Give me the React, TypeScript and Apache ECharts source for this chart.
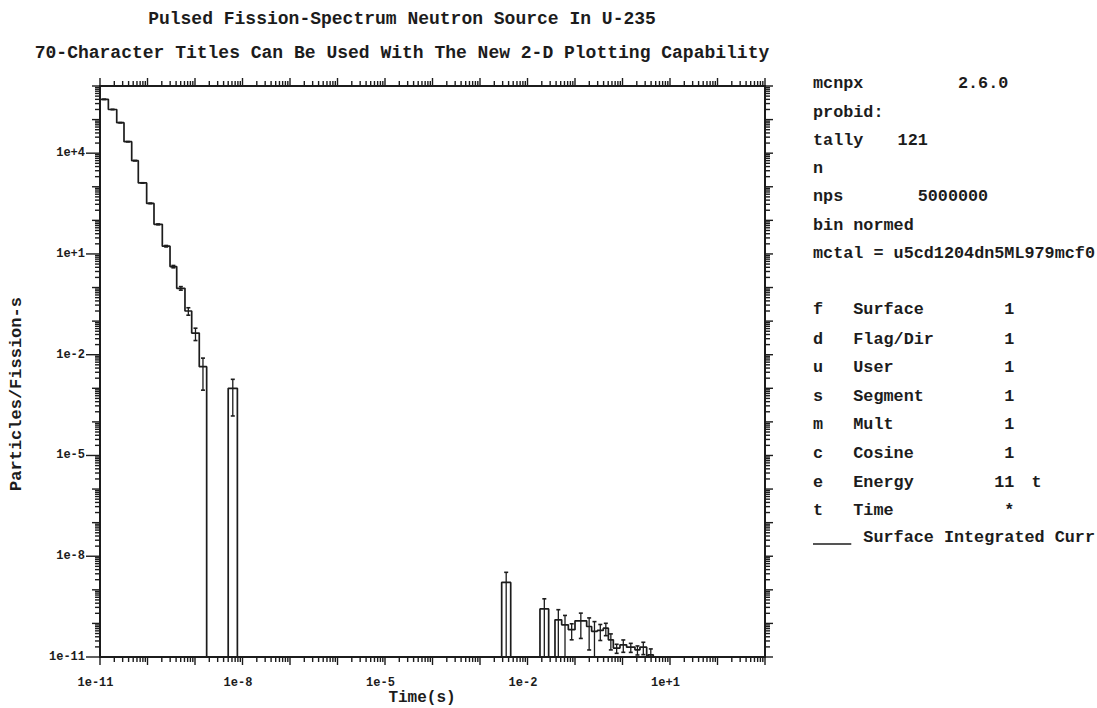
import React, { useEffect, useRef } from "react";
import * as echarts from "echarts";

// ---- axis extents (powers of ten) ----
const X_MIN_EXP = -11;
const X_MAX_EXP = 3;
const Y_MIN_EXP = -11;
const Y_MAX_EXP = 6;

const xTickLabels = ["1e-11", "1e-8", "1e-5", "1e-2", "1e+1"];
const yTickLabels = ["1e-11", "1e-8", "1e-5", "1e-2", "1e+1", "1e+4"];

// ---- tally data: time-bin edges (s), values (particles/fission-s), relative errors ----
const promptEdges = [1.0e-11, 1.5e-11, 2.25e-11, 3.2e-11, 4.65e-11, 6.4e-11, 9.6e-11, 1.37e-10, 2.05e-10, 2.98e-10, 4.12e-10, 6.15e-10, 8.52e-10, 1.23e-9, 1.76e-9];
const promptValues = [4.0e5, 2.0e5, 8.1e4, 2.2e4, 6.0e3, 1.3e3, 3.2e2, 76, 17, 4.2, 0.95, 0.2, 0.044, 4.4e-3];
const promptErrors = [0.002, 0.003, 0.004, 0.006, 0.01, 0.015, 0.02, 0.03, 0.05, 0.08, 0.12, 0.25, 0.4, 0.8];

const shakeEdges = [5.0e-9, 7.8e-9];
const shakeValues = [1.0e-3];
const shakeErrors = [0.85];

const spikeAEdges = [2.86e-3, 4.43e-3];
const spikeAValues = [1.66e-9];
const spikeAErrors = [1.0];

const spikeBEdges = [1.83e-2, 2.79e-2];
const spikeBValues = [2.7e-10];
const spikeBErrors = [1.0];

const delayedEdges = [3.79e-2, 5.24e-2, 7.24e-2, 0.1, 0.176, 0.224, 0.295, 0.394, 0.504, 0.641, 0.885, 1.22, 1.83, 2.33, 3.23];
const delayedValues = [1.28e-10, 9.1e-11, 6.5e-11, 1.19e-10, 8.1e-11, 5.8e-11, 6.2e-11, 7.2e-11, 3.25e-11, 1.84e-11, 2.3e-11, 1.96e-11, 1.64e-11, 1.96e-11];
const delayedErrors = [1.0, 0.9, 0.5, 0.7, 0.8, 0.95, 0.5, 0.4, 0.5, 0.3, 0.4, 0.3, 0.3, 0.4];

const tailEdges = [3.49, 4.45];
const tailValues = [1.16e-11];
const tailErrors = [0.5];

// ---- side panel text ----
const headerRows = [
  ["mcnpx", "2.6.0"],
  ["probid:", ""],
  ["tally", "121"],
  ["n", ""],
  ["nps", "5000000"],
  ["bin normed", ""],
  ["mctal = u5cd1204dn5ML979mcf0", ""],
];
const headerValueCol = [14, 0, 8, 0, 10, 0, 0];
const binRowsLetter = ["f", "d", "u", "s", "m", "c", "e", "t"];
const binRowsName = ["Surface", "Flag/Dir", "User", "Segment", "Mult", "Cosine", "Energy", "Time"];
const binRowsCount = ["1", "1", "1", "1", "1", "1", "11", "*"];
const binRowsExtra = ["", "", "", "", "", "", "t", ""];
const legendLabel = "Surface Integrated Curr";

const titleLine1 = "Pulsed Fission-Spectrum Neutron Source In U-235";
const titleLine2 = "70-Character Titles Can Be Used With The New 2-D Plotting Capability";
const xAxisTitle = "Time(s)";
const yAxisTitle = "Particles/Fission-s";

const INK = "#1c1c1c";
const MONO = '"Liberation Mono", "DejaVu Sans Mono", monospace';

const groups = [
  { edges: promptEdges, values: promptValues, errors: promptErrors },
  { edges: shakeEdges, values: shakeValues, errors: shakeErrors },
  { edges: spikeAEdges, values: spikeAValues, errors: spikeAErrors },
  { edges: spikeBEdges, values: spikeBValues, errors: spikeBErrors },
  { edges: delayedEdges, values: delayedValues, errors: delayedErrors },
  { edges: tailEdges, values: tailValues, errors: tailErrors },
];

const lg = (v: number) => Math.log10(v);
const clampY = (e: number) => Math.max(Y_MIN_EXP, e);

function buildStep() {
  const pts: number[][] = [];
  groups.forEach((g) => {
    const x0 = lg(g.edges[0]);
    pts.push([x0, Y_MIN_EXP]);
    g.values.forEach((v, i) => {
      const y = clampY(lg(v));
      pts.push([lg(g.edges[i]), y]);
      pts.push([lg(g.edges[i + 1]), y]);
    });
    pts.push([lg(g.edges[g.edges.length - 1]), Y_MIN_EXP]);
  });
  return pts;
}

function buildErrors() {
  const out: number[][] = [];
  groups.forEach((g) => {
    g.values.forEach((v, i) => {
      const xc = (lg(g.edges[i]) + lg(g.edges[i + 1])) / 2;
      const r = g.errors[i];
      const hi = lg(v * (1 + r));
      const loVal = v * (1 - r);
      const lo = loVal > 0 ? clampY(lg(loVal)) : Y_MIN_EXP;
      out.push([xc, lo, hi]);
    });
  });
  return out;
}

function expLabel(v: number) {
  return v >= 0 ? `1e+${v}` : `1e${v}`;
}

function buildXTicks() {
  const t: number[][] = [];
  for (let d = X_MIN_EXP; d <= X_MAX_EXP; d++) {
    t.push([d, 8]);
    if (d < X_MAX_EXP) for (let k = 2; k <= 9; k++) t.push([d + Math.log10(k), 5]);
  }
  return t;
}
function buildYTicks() {
  const t: number[][] = [];
  for (let d = Y_MIN_EXP; d <= Y_MAX_EXP; d++) {
    const labeled = yTickLabels.indexOf(expLabel(d)) >= 0;
    t.push([d, labeled ? 14 : 8, 8]);
    if (d < Y_MAX_EXP) for (let k = 2; k <= 9; k++) t.push([d + Math.log10(k), 5, 5]);
  }
  return t;
}

export default function App() {
  const ref = useRef<HTMLDivElement>(null);
  useEffect(() => {
    if (!ref.current) return;
    const chart = echarts.init(ref.current, null, { renderer: "svg" });
    const tickStyle = { stroke: INK, lineWidth: 1.4 };
    const cellW = 10.07;
    const panelX = 813;
    const headerY = [83, 112, 140, 168, 196, 225, 253];
    const binY = [309, 339, 367, 396, 424, 453, 482, 510];
    const panelFont = { fontFamily: MONO, fontWeight: "bold", fontSize: 16.8, fill: INK, verticalAlign: "middle" };

    const graphics: any[] = [
      { type: "text", x: 402, y: 19, style: { text: titleLine1, fontFamily: MONO, fontWeight: "bold", fontSize: 18, fill: INK, align: "center", verticalAlign: "middle" } },
      { type: "text", x: 402, y: 53, style: { text: titleLine2, fontFamily: MONO, fontWeight: "bold", fontSize: 18, fill: INK, align: "center", verticalAlign: "middle" } },
      { type: "text", x: 422, y: 698, style: { text: xAxisTitle, fontFamily: MONO, fontWeight: "bold", fontSize: 16, fill: INK, align: "center", verticalAlign: "middle" } },
      { type: "text", x: 16, y: 394, rotation: Math.PI / 2, style: { text: yAxisTitle, fontFamily: MONO, fontWeight: "bold", fontSize: 17, fill: INK, align: "center", verticalAlign: "middle" } },
    ];
    headerRows.forEach((row, i) => {
      graphics.push({ type: "text", x: panelX, y: headerY[i], style: { ...panelFont, text: row[0], align: "left" } });
      if (row[1]) graphics.push({ type: "text", x: panelX + headerValueCol[i] * cellW + 4, y: headerY[i], style: { ...panelFont, text: row[1], align: "left" } });
    });
    binRowsLetter.forEach((l, i) => {
      graphics.push({ type: "text", x: panelX, y: binY[i], style: { ...panelFont, text: l, align: "left" } });
      graphics.push({ type: "text", x: panelX + 4 * cellW, y: binY[i], style: { ...panelFont, text: binRowsName[i], align: "left" } });
      graphics.push({ type: "text", x: panelX + 20 * cellW, y: binY[i], style: { ...panelFont, text: binRowsCount[i], align: "right" } });
      if (binRowsExtra[i]) graphics.push({ type: "text", x: panelX + 21.7 * cellW, y: binY[i], style: { ...panelFont, text: binRowsExtra[i], align: "left" } });
    });
    graphics.push({ type: "line", shape: { x1: panelX, y1: 544, x2: panelX + 4 * cellW - 2, y2: 544 }, style: { stroke: INK, lineWidth: 1.6 } });
    graphics.push({ type: "text", x: panelX + 5 * cellW, y: 537, style: { ...panelFont, text: legendLabel, align: "left" } });

    const option: any = {
      animation: false,
      backgroundColor: "#ffffff",
      grid: { left: 100, right: 332, top: 86, bottom: 51, show: true, borderColor: INK, borderWidth: 2, backgroundColor: "transparent" },
      xAxis: {
        type: "value",
        min: X_MIN_EXP,
        max: X_MAX_EXP,
        interval: 1,
        axisLine: { show: false },
        axisTick: { show: false },
        splitLine: { show: false },
        axisLabel: {
          margin: 20,
          padding: [0, 9, 0, 0],
          fontFamily: MONO,
          fontWeight: "bold",
          fontSize: 12,
          color: INK,
          formatter: (v: number) => (xTickLabels.indexOf(expLabel(Math.round(v))) >= 0 ? expLabel(Math.round(v)) : ""),
        },
      },
      yAxis: {
        type: "value",
        min: Y_MIN_EXP,
        max: Y_MAX_EXP,
        interval: 1,
        axisLine: { show: false },
        axisTick: { show: false },
        splitLine: { show: false },
        axisLabel: {
          margin: 15,
          fontFamily: MONO,
          fontWeight: "bold",
          fontSize: 12,
          color: INK,
          formatter: (v: number) => (yTickLabels.indexOf(expLabel(Math.round(v))) >= 0 ? expLabel(Math.round(v)) : ""),
        },
      },
      graphic: graphics,
      series: [
        {
          type: "line",
          data: buildStep(),
          showSymbol: false,
          symbol: "none",
          clip: false,
          lineStyle: { color: INK, width: 1.7 },
          silent: true,
        },
        {
          type: "custom",
          silent: true,
          clip: false,
          data: buildErrors(),
          renderItem: (params: any, api: any) => {
            const x = api.value(0);
            const lo = api.value(1);
            const hi = api.value(2);
            const pHi = api.coord([x, hi]);
            const pLo = api.coord([x, lo]);
            const children: any[] = [
              { type: "line", shape: { x1: pHi[0], y1: pHi[1], x2: pLo[0], y2: pLo[1] }, style: { stroke: INK, lineWidth: 1.3 } },
              { type: "line", shape: { x1: pHi[0] - 2, y1: pHi[1], x2: pHi[0] + 2, y2: pHi[1] }, style: { stroke: INK, lineWidth: 1.6 } },
            ];
            if (lo > Y_MIN_EXP) children.push({ type: "line", shape: { x1: pLo[0] - 2, y1: pLo[1], x2: pLo[0] + 2, y2: pLo[1] }, style: { stroke: INK, lineWidth: 1.6 } });
            return { type: "group", children };
          },
        },
        {
          type: "custom",
          silent: true,
          clip: false,
          data: buildXTicks(),
          renderItem: (params: any, api: any) => {
            const cs = params.coordSys;
            const px = api.coord([api.value(0), Y_MIN_EXP])[0];
            const len = api.value(1);
            const bottom = cs.y + cs.height;
            return {
              type: "group",
              children: [
                { type: "line", shape: { x1: px, y1: bottom, x2: px, y2: bottom + len }, style: tickStyle },
                { type: "line", shape: { x1: px, y1: cs.y, x2: px, y2: cs.y - len }, style: tickStyle },
              ],
            };
          },
        },
        {
          type: "custom",
          silent: true,
          clip: false,
          data: buildYTicks(),
          renderItem: (params: any, api: any) => {
            const cs = params.coordSys;
            const py = api.coord([X_MIN_EXP, api.value(0)])[1];
            const lenL = api.value(1);
            const lenR = api.value(2);
            const right = cs.x + cs.width;
            return {
              type: "group",
              children: [
                { type: "line", shape: { x1: cs.x, y1: py, x2: cs.x - lenL, y2: py }, style: tickStyle },
                { type: "line", shape: { x1: right, y1: py, x2: right + lenR, y2: py }, style: tickStyle },
              ],
            };
          },
        },
      ],
    };
    chart.setOption(option);
    return () => chart.dispose();
  }, []);
  return <div ref={ref} style={{ position: "absolute", left: 0, top: 0, width: 1097, height: 708, background: "#fff" }} />;
}
